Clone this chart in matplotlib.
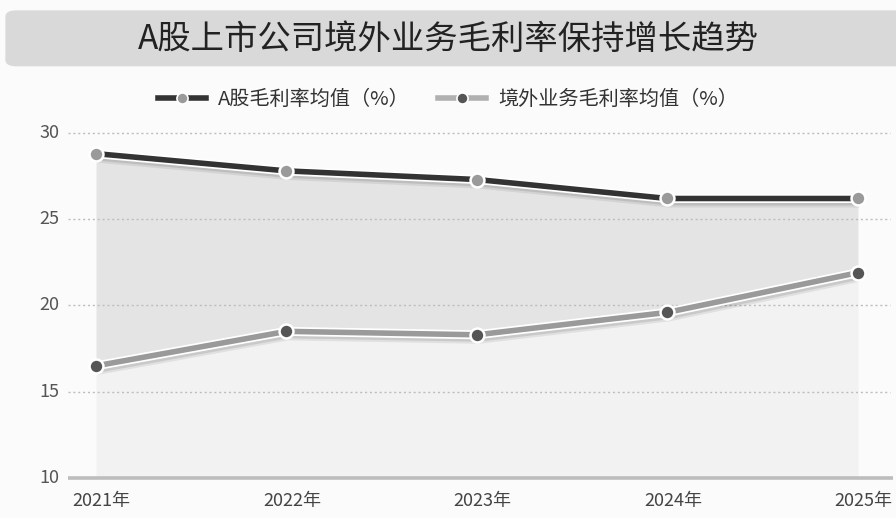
import matplotlib.pyplot as plt
import matplotlib.patheffects as pe
from matplotlib.patches import FancyBboxPatch
from matplotlib.lines import Line2D

plt.rcParams['font.family'] = ['Noto Sans CJK SC', 'DejaVu Sans']

# 数据
years = ['2021年', '2022年', '2023年', '2024年', '2025年']
a_margin = [28.8, 27.8, 27.3, 26.2, 26.2]
overseas_margin = [16.5, 18.5, 18.3, 19.6, 21.9]
y_ticks = [10, 15, 20, 25, 30]

title = 'A股上市公司境外业务毛利率保持增长趋势'
label_a = 'A股毛利率均值（%）'
label_o = '境外业务毛利率均值（%）'

dark = '#333333'
mid = '#9a9a9a'
marker_dark = '#555555'

fig = plt.figure(figsize=(8.96, 5.18), dpi=100, facecolor='#fbfbfb')

# 标题栏
banner = FancyBboxPatch((0.006, 0.872), 1.05, 0.108,
                        boxstyle='round,pad=0,rounding_size=0.012',
                        transform=fig.transFigure, facecolor='#d9d9d9',
                        edgecolor='none', zorder=0)
fig.patches.append(banner)
fig.text(0.5, 0.923, title, ha='center', va='center', fontsize=24,
         fontweight='medium', color='#222222')

ax = fig.add_axes([40 / 896, 40 / 518, 853 / 896, 353 / 518])
ax.set_facecolor('none')
x = list(range(len(years)))
ax.set_xlim(-0.294, 4.184)
ax.set_ylim(10, 30.46)

# 填充区域
ax.fill_between(x, 10, overseas_margin, color='#f2f2f2', lw=0, zorder=1)
ax.fill_between(x, overseas_margin, a_margin, color='#e4e4e4', lw=0, zorder=1)

# 网格线与纵轴刻度
for t in y_ticks:
    if t > y_ticks[0]:
        ax.plot([-0.147, 4.17], [t, t], ls=(0, (1.5, 2)), color='#bdbdbd', lw=1, zorder=2)
    ax.text(-0.19, t, str(t), ha='right', va='center', fontsize=13, color='#555555')
ax.plot([-0.147, 4.184], [y_ticks[0], y_ticks[0]], color='#bdbdbd', lw=2.6,
        zorder=2, clip_on=False, solid_capstyle='butt')

# 线条阴影（两层叠加让边缘柔和）
effects = [pe.SimpleLineShadow(offset=(1, -2), shadow_color='black', alpha=0.07, linewidth=9),
           pe.SimpleLineShadow(offset=(1, -2), shadow_color='black', alpha=0.10, linewidth=6),
           pe.Stroke(linewidth=6.5, foreground='white'), pe.Normal()]

ax.plot(x, a_margin, color=dark, lw=4, zorder=4, path_effects=effects,
        solid_capstyle='butt')
ax.plot(x, a_margin, ls='none', marker='o', ms=10, mfc=mid, mec='white', mew=1.8, zorder=5)
ax.plot(x, overseas_margin, color=mid, lw=4, zorder=4, path_effects=effects,
        solid_capstyle='butt')
ax.plot(x, overseas_margin, ls='none', marker='o', ms=10, mfc=marker_dark, mec='white',
        mew=1.8, zorder=5)

for i, yr in enumerate(years):
    ax.text(i + 0.03, 10 - 1.35, yr, ha='center', va='center', fontsize=13, color='#444444')

for s in ax.spines.values():
    s.set_visible(False)
ax.set_xticks([])
ax.set_yticks([])

handles = [Line2D([], [], color=dark, lw=4, marker='o', ms=8, mfc=mid, mec='white', mew=1.2),
           Line2D([], [], color='#b0b0b0', lw=4, marker='o', ms=8, mfc=marker_dark, mec='white', mew=1.2)]
fig.legend(handles, [label_a, label_o], loc='center', bbox_to_anchor=(0.5, 0.808),
           ncol=2, frameon=False, fontsize=14.5, handlelength=2.4, columnspacing=1.4,
           handletextpad=0.6, labelcolor='#333333')

fig.savefig('out.png', dpi=100, facecolor=fig.get_facecolor())
